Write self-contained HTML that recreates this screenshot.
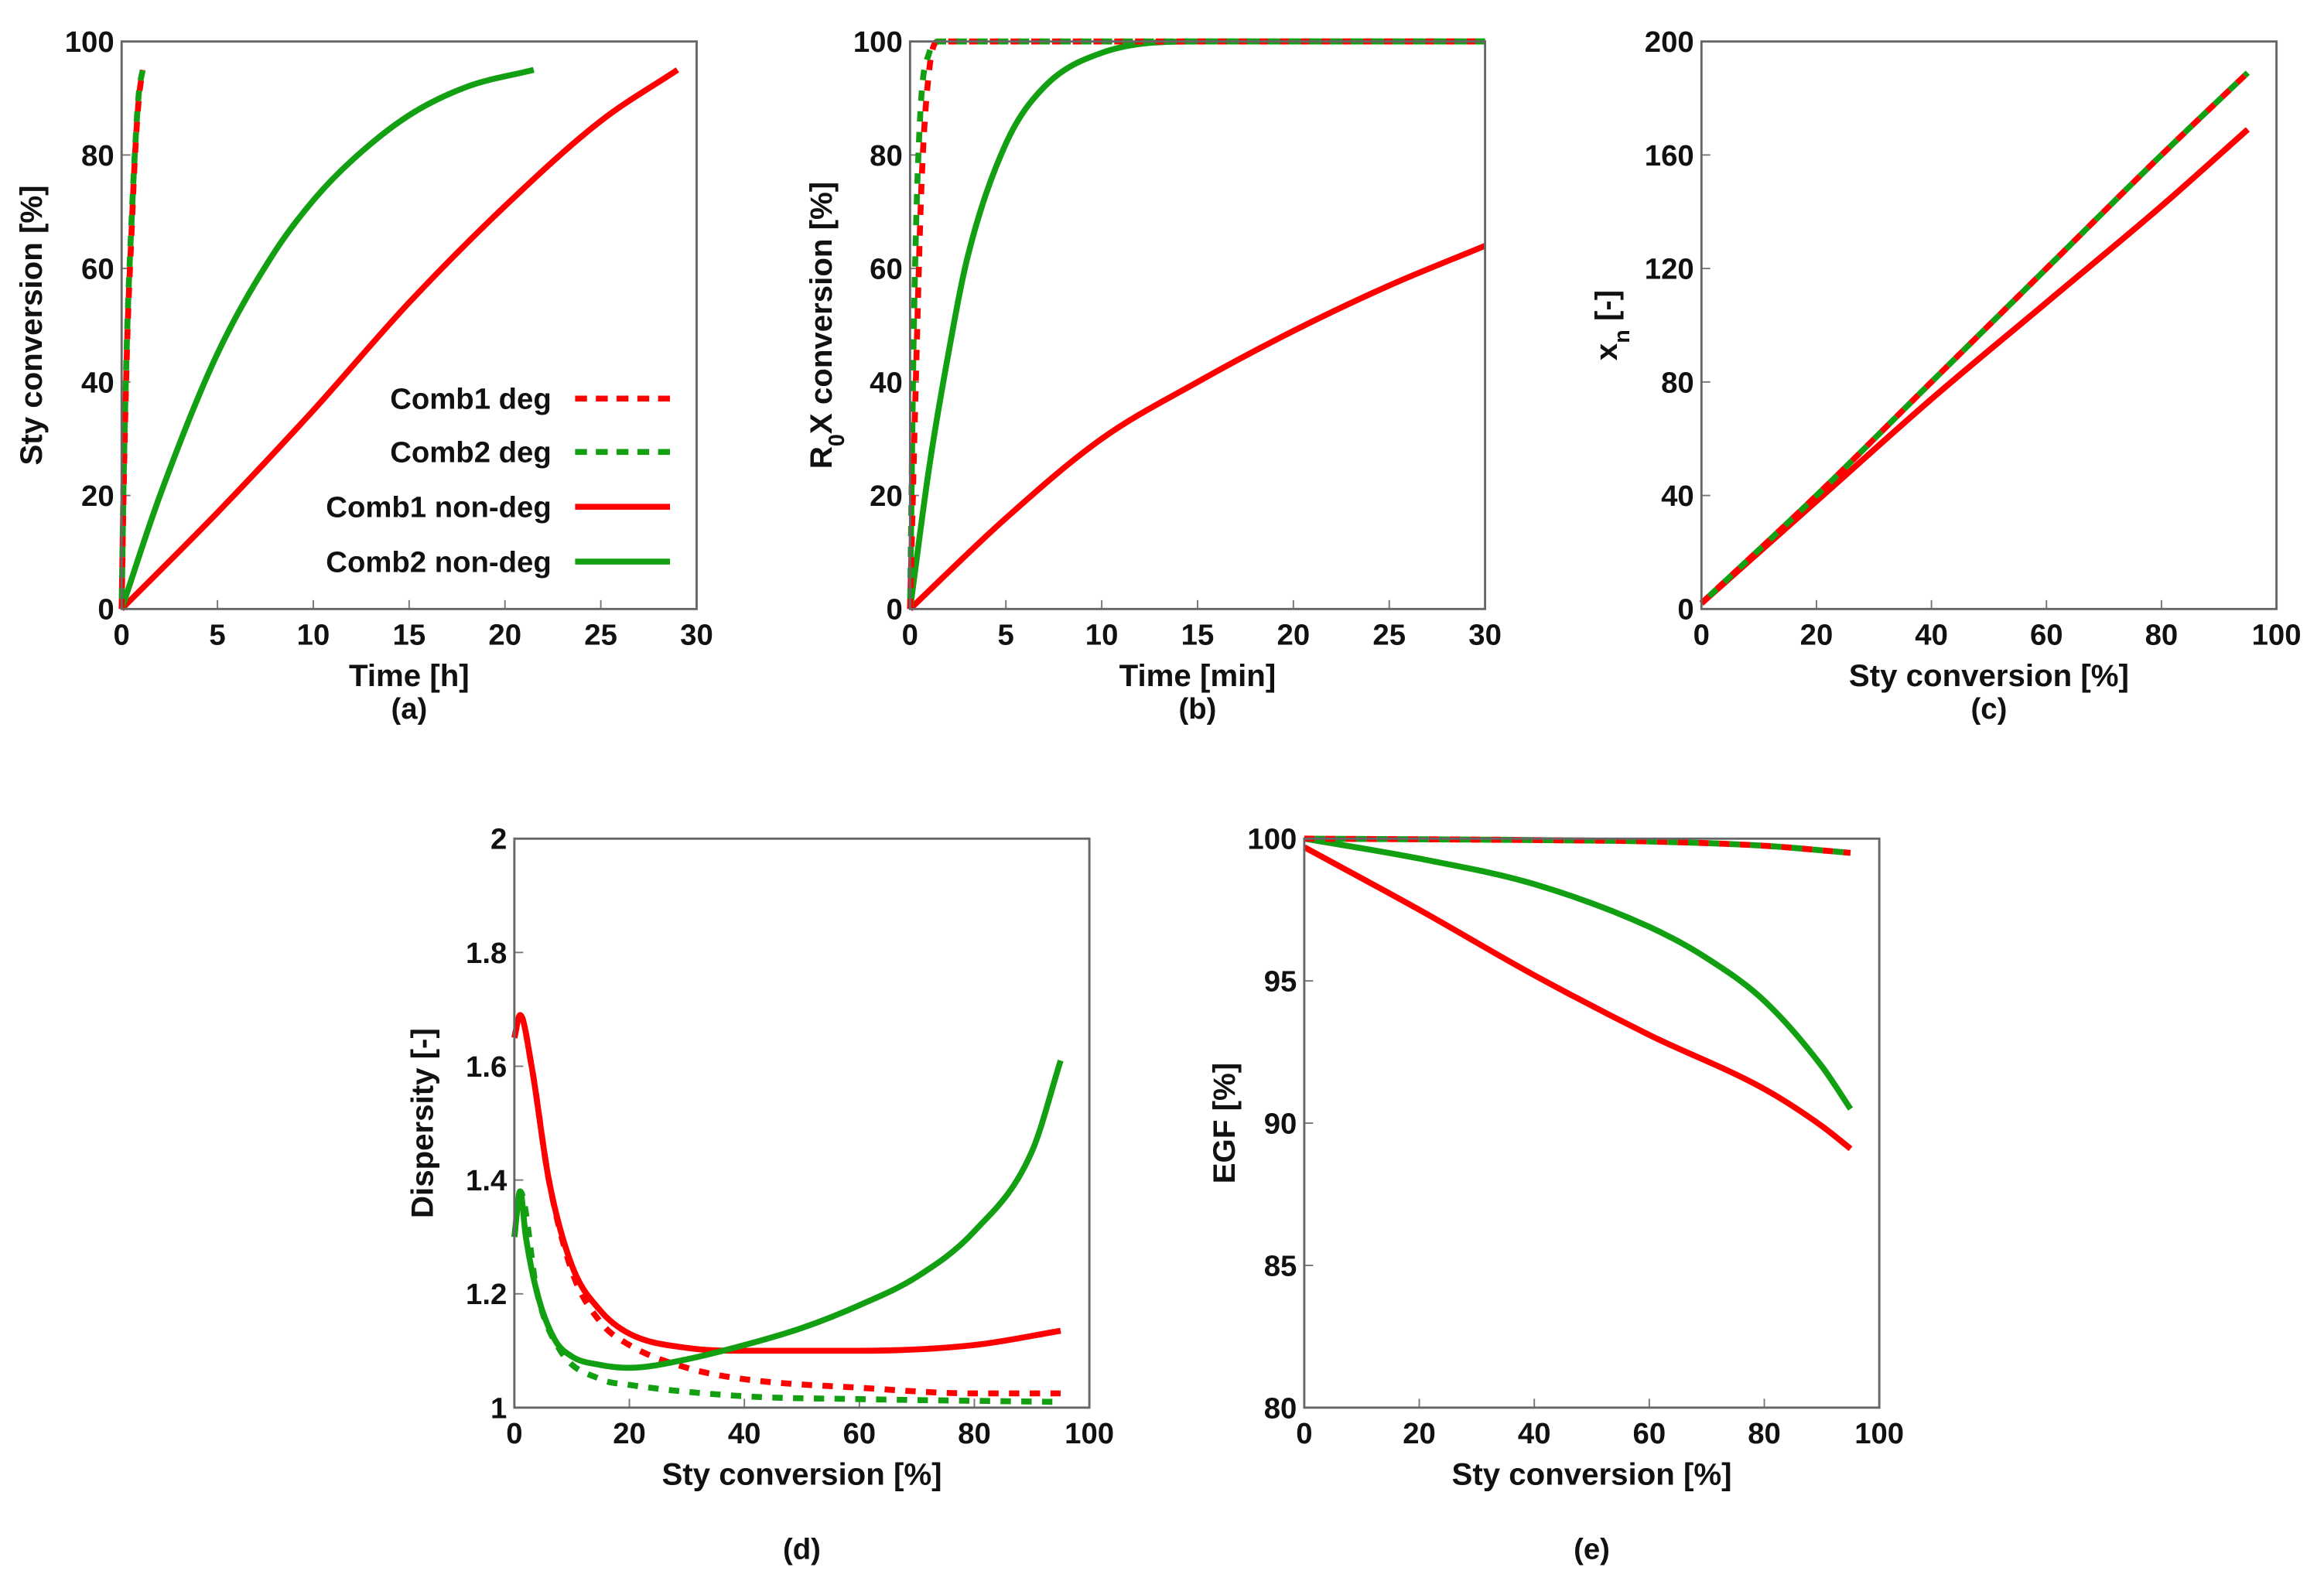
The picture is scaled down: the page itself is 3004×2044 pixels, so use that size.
<!DOCTYPE html>
<html><head><meta charset="utf-8"><style>
html,body{margin:0;padding:0;background:#fff}
svg{display:block}
text{font-family:"Liberation Sans",Arial,sans-serif;font-weight:bold;fill:#111}
</style></head><body>
<svg id="fig" width="3004" height="2044" viewBox="0 0 1568 1067" xmlns="http://www.w3.org/2000/svg"></svg>
<script>
// ---- data ----
const aC1deg = [[0,0],[0.1,20],[0.3,48],[0.5,65],[0.7,80],[0.9,90],[1.1,95]];
const aC2deg = [[0,0],[0.1,22],[0.3,50],[0.5,67],[0.7,81],[0.9,91],[1.1,95]];
const aC1non = [[0,0],[5,17],[10,35],[15,54],[20,71],[25,86],[29,95]];
const aC2non = [[0,0],[2,20],[5,45],[8,63],[10,72],[12,79],[15,87],[18,92],[21.5,95]];
const bC1deg = [[0,0],[0.3,40],[0.6,75],[1,95],[1.5,100],[30,100]];
const bC2deg = [[0,0],[0.2,50],[0.5,85],[1,98],[1.5,100],[30,100]];
const bC2non = [[0,0],[1,25],[2,45],[3,62],[5,82],[7,92],[10,98],[15,100],[30,100]];
const bC1non = [[0,0],[5,16],[10,30],[15,40],[20,49],[25,57],[30,64]];
const cDeg = [[0,2],[20,40],[40,80],[60,120],[80,160],[95,189]];
const cNon = [[0,2],[20,38],[40,74],[60,108],[80,142],[95,169]];
const dC1non = [[0,1.65],[1,1.69],[3,1.6],[6,1.4],[10,1.25],[15,1.17],[20,1.13],[30,1.105],[40,1.1],[60,1.1],[80,1.11],[95,1.135]];
const dC1deg = [[0,1.65],[1,1.69],[3,1.6],[6,1.4],[10,1.24],[15,1.15],[20,1.11],[30,1.07],[40,1.05],[60,1.035],[80,1.025],[95,1.025]];
const dC2non = [[0,1.3],[1,1.38],[2,1.3],[4,1.2],[7,1.12],[10,1.09],[15,1.075],[20,1.07],[30,1.085],[40,1.11],[50,1.14],[60,1.18],[70,1.23],[80,1.31],[90,1.45],[95,1.61]];
const dC2deg = [[0,1.3],[1,1.38],[4,1.2],[8,1.1],[15,1.05],[20,1.04],[40,1.02],[60,1.015],[95,1.01]];
const eC1deg = [[0,100],[40,99.95],[60,99.9],[80,99.75],[95,99.5]];
const eC2deg = [[0,100],[40,99.95],[60,99.9],[80,99.75],[95,99.5]];
const eC2non = [[0,100],[20,99.3],[40,98.4],[60,96.9],[70,95.8],[80,94.3],[90,92],[95,90.5]];
const eC1non = [[0,99.7],[20,97.5],[40,95.2],[60,93.1],[80,91.2],[90,89.9],[95,89.1]];
const legendLabels = ["Comb1 deg","Comb2 deg","Comb1 non-deg","Comb2 non-deg"];

const NS="http://www.w3.org/2000/svg";
const svg=document.getElementById('fig');
const RED="#ff0000", GREEN="#12a012";
function el(tag,attrs,parent,txt){const e=document.createElementNS(NS,tag);for(const k in attrs)e.setAttribute(k,attrs[k]);if(txt!=null)e.textContent=txt;(parent||svg).appendChild(e);return e;}
// monotone cubic (Fritsch-Carlson) in pixel space, x increasing
function smooth(p){
  const n=p.length; if(n<3){return "M"+p.map(q=>q.join(",")).join(" L");}
  const dx=[],s=[];for(let i=0;i<n-1;i++){dx[i]=p[i+1][0]-p[i][0];s[i]=(p[i+1][1]-p[i][1])/(dx[i]||1e-9);}
  const m=[s[0]];for(let i=1;i<n-1;i++){m[i]=(s[i-1]*s[i]<=0)?0:(s[i-1]+s[i])/2;}m[n-1]=s[n-2];
  for(let i=0;i<n-1;i++){if(s[i]===0){m[i]=0;m[i+1]=0;continue;}const a=m[i]/s[i],b=m[i+1]/s[i],h=a*a+b*b;if(h>9){const t=3/Math.sqrt(h);m[i]=t*a*s[i];m[i+1]=t*b*s[i];}}
  let d="M"+p[0][0]+","+p[0][1];
  for(let i=0;i<n-1;i++){const h=dx[i]/3;d+=" C"+(p[i][0]+h)+","+(p[i][1]+m[i]*h)+" "+(p[i+1][0]-h)+","+(p[i+1][1]-m[i+1]*h)+" "+p[i+1][0]+","+p[i+1][1];}
  return d;
}

function panel(o){
  const g=el('g',{},svg);
  
  
  const sx=v=>o.x0+(v-o.xmin)/(o.xmax-o.xmin)*(o.x1-o.x0);
  const sy=v=>o.y1-(v-o.ymin)/(o.ymax-o.ymin)*(o.y1-o.y0);
  o.xt.forEach(t=>{
    const X=sx(t);
    const tk=el('line',{x1:X,x2:X,y1:o.y1,y2:o.y1-6,stroke:'#777','stroke-width':1},g);
    
    const tl=el('text',{x:X,y:o.y1+24,'text-anchor':'middle','font-size':20},g,String(t));
    
  });
  o.yt.forEach(t=>{
    const Y=sy(t);
    const tk=el('line',{x1:o.x0,x2:o.x0+6,y1:Y,y2:Y,stroke:'#777','stroke-width':1},g);
    
    const tl=el('text',{x:o.x0-5,y:Y+7,'text-anchor':'end','font-size':20},g,String(t));
    
  });
  const xl=el('text',{x:(o.x0+o.x1)/2,y:o.y1+52,'text-anchor':'middle','font-size':21},g,o.xlabel);
  
  const yl=el('text',{x:0,y:0,'text-anchor':'middle','font-size':21,transform:`translate(${o.ylx},${(o.y0+o.y1)/2}) rotate(-90)`},g);
  
  if(o.ylabelHTML){o.ylabelHTML(yl);}else yl.textContent=o.ylabel;
  const cap=el('text',{x:(o.x0+o.x1)/2,y:o.capY,'text-anchor':'middle','font-size':20},g,'('+o.id+')');
  
  o.series.forEach(s=>{
    const pts=s.data.map(p=>[sx(p[0]),sy(p[1])]);
    const p=el('path',{d:smooth(pts),fill:'none',stroke:s.color,'stroke-width':4,'stroke-linecap':'butt','stroke-dasharray':s.dash?'7,7':'none','stroke-dashoffset':s.off||0},g);
    
  });
  const fr=el('rect',{x:o.x0,y:o.y0,width:o.x1-o.x0,height:o.y1-o.y0,fill:'none',stroke:'#666','stroke-width':1.5},g);
  
  return g;
}
const top0=28,top1=411,bot0=566,bot1=950;
const ga=panel({id:'a',x0:82,x1:470,y0:top0,y1:top1,xmin:0,xmax:30,ymin:0,ymax:100,xt:[0,5,10,15,20,25,30],yt:[0,20,40,60,80,100],xlabel:'Time [h]',ylabel:'Sty conversion [%]',ylx:28,capY:485,
 series:[{data:aC1non,color:RED,name:'comb1-non-deg-line'},{data:aC2non,color:GREEN,name:'comb2-non-deg-line'},{data:aC1deg,color:RED,dash:1,name:'comb1-deg-line'},{data:aC2deg,color:GREEN,dash:1,off:7,name:'comb2-deg-line'}]});
panel({id:'b',x0:614,x1:1002,y0:top0,y1:top1,xmin:0,xmax:30,ymin:0,ymax:100,xt:[0,5,10,15,20,25,30],yt:[0,20,40,60,80,100],xlabel:'Time [min]',ylx:561,capY:485,
 ylabelHTML:t=>{t.appendChild(document.createTextNode('R'));el('tspan',{'baseline-shift':'sub','font-size':15},t,'0');t.appendChild(document.createTextNode('X conversion [%]'));},
 series:[{data:bC1non,color:RED,name:'comb1-non-deg-line'},{data:bC2non,color:GREEN,name:'comb2-non-deg-line'},{data:bC1deg,color:RED,dash:1,name:'comb1-deg-line'},{data:bC2deg,color:GREEN,dash:1,off:7,name:'comb2-deg-line'}]});
panel({id:'c',x0:1148,x1:1536,y0:top0,y1:top1,xmin:0,xmax:100,ymin:0,ymax:200,xt:[0,20,40,60,80,100],yt:[0,40,80,120,160,200],xlabel:'Sty conversion [%]',ylx:1091,capY:485,
 ylabelHTML:t=>{t.appendChild(document.createTextNode('x'));el('tspan',{'baseline-shift':'sub','font-size':15},t,'n');t.appendChild(document.createTextNode(' [-]'));},
 series:[{data:cNon,color:RED,name:'comb1-non-deg-line'},{data:cNon,color:RED,name:'comb2-non-deg-line'},{data:cDeg,color:RED,dash:1,name:'comb1-deg-line'},{data:cDeg,color:GREEN,dash:1,off:7,name:'comb2-deg-line'}]});
panel({id:'d',x0:347,x1:735,y0:bot0,y1:bot1,xmin:0,xmax:100,ymin:1,ymax:2,xt:[0,20,40,60,80,100],yt:[1,1.2,1.4,1.6,1.8,2],xlabel:'Sty conversion [%]',ylabel:'Dispersity [-]',ylx:292,capY:1052,
 series:[{data:dC1deg,color:RED,dash:1,name:'comb1-deg-line'},{data:dC2deg,color:GREEN,dash:1,name:'comb2-deg-line'},{data:dC1non,color:RED,name:'comb1-non-deg-line'},{data:dC2non,color:GREEN,name:'comb2-non-deg-line'}]});
panel({id:'e',x0:880,x1:1268,y0:bot0,y1:bot1,xmin:0,xmax:100,ymin:80,ymax:100,xt:[0,20,40,60,80,100],yt:[80,85,90,95,100],xlabel:'Sty conversion [%]',ylabel:'EGF [%]',ylx:833,capY:1052,
 series:[{data:eC2non,color:GREEN,name:'comb2-non-deg-line'},{data:eC1non,color:RED,name:'comb1-non-deg-line'},{data:eC1deg,color:RED,dash:1,name:'comb1-deg-line'},{data:eC2deg,color:GREEN,dash:1,off:7,name:'comb2-deg-line'}]});
// legend in panel a
const lg=el('g',{},ga);

const lcol=[RED,GREEN,RED,GREEN], ldash=[1,1,0,0], ly=[269,305,342,379];
legendLabels.forEach((lab,i)=>{
  const e=el('g',{},lg);
  
  el('text',{x:372,y:ly[i]+7,'text-anchor':'end','font-size':20},e,lab);
  el('line',{x1:388,x2:452,y1:ly[i],y2:ly[i],stroke:lcol[i],'stroke-width':4,'stroke-dasharray':ldash[i]?'8,6':'none'},e);
});
</script>
</body></html>
